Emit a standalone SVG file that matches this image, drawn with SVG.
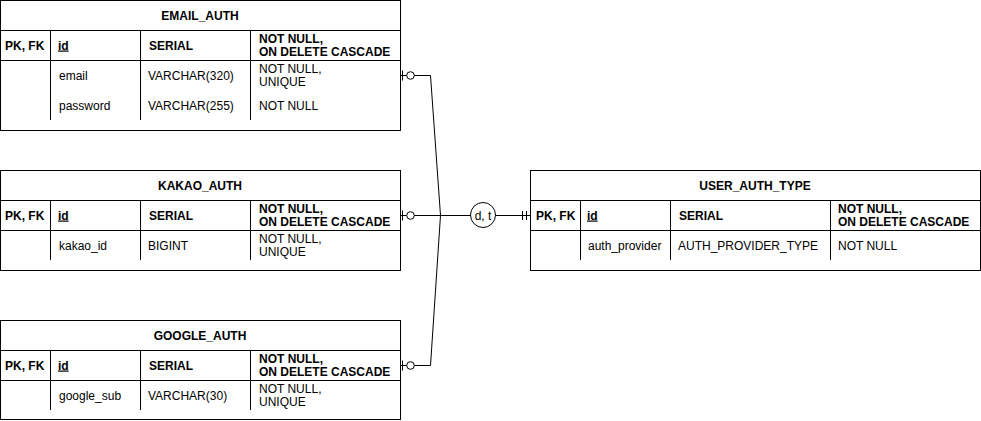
<svg xmlns="http://www.w3.org/2000/svg" width="981" height="421" viewBox="0 0 981 421">
<style>
text{font-family:"Liberation Sans",Arial,sans-serif;font-size:12px;fill:#000}
.b{font-weight:bold}
.c{text-anchor:middle}
.u{text-decoration:underline}
.box{fill:#fff;stroke:#000;stroke-width:1}
.ln{stroke:#000;stroke-width:1;fill:none}
.cn{stroke:#000;stroke-width:1;fill:none}
</style>
<rect width="981" height="421" fill="#fff"/>

<g id="email_auth">
<rect class="box" x="0.5" y="0.5" width="400" height="130"/>
<path class="ln" d="M0.5 30.5H400.5M0.5 60.5H400.5M50.5 30.5V120M140.5 30.5V120M250.5 30.5V120"/>
<text class="b c" x="200" y="19.5">EMAIL_AUTH</text>
<text class="b" x="5" y="49.5">PK, FK</text>
<text class="b u" x="58" y="49.5">id</text>
<text class="b" x="149" y="49.5">SERIAL</text>
<text class="b" x="259" y="43">NOT NULL,</text>
<text class="b" x="259" y="56">ON DELETE CASCADE</text>
<text x="59" y="79.5">email</text>
<text x="148" y="79.5">VARCHAR(320)</text>
<text x="259" y="73">NOT NULL,</text>
<text x="259" y="86">UNIQUE</text>
<text x="59" y="109.5">password</text>
<text x="148" y="109.5">VARCHAR(255)</text>
<text x="259" y="109.5">NOT NULL</text>
</g>

<g id="kakao_auth">
<rect class="box" x="0.5" y="170.5" width="400" height="100"/>
<path class="ln" d="M0.5 200.5H400.5M0.5 230.5H400.5M50.5 200.5V260M140.5 200.5V260M250.5 200.5V260"/>
<text class="b c" x="200" y="189.5">KAKAO_AUTH</text>
<text class="b" x="5" y="219.5">PK, FK</text>
<text class="b u" x="58" y="219.5">id</text>
<text class="b" x="149" y="219.5">SERIAL</text>
<text class="b" x="259" y="213">NOT NULL,</text>
<text class="b" x="259" y="226">ON DELETE CASCADE</text>
<text x="59" y="249.5">kakao_id</text>
<text x="148" y="249.5">BIGINT</text>
<text x="259" y="243">NOT NULL,</text>
<text x="259" y="256">UNIQUE</text>
</g>

<g id="google_auth">
<rect class="box" x="0.5" y="320.5" width="400" height="99"/>
<path class="ln" d="M0.5 350.5H400.5M0.5 380.5H400.5M50.5 350.5V410M140.5 350.5V410M250.5 350.5V410"/>
<text class="b c" x="200" y="339.5">GOOGLE_AUTH</text>
<text class="b" x="5" y="369.5">PK, FK</text>
<text class="b u" x="58" y="369.5">id</text>
<text class="b" x="149" y="369.5">SERIAL</text>
<text class="b" x="259" y="363">NOT NULL,</text>
<text class="b" x="259" y="376">ON DELETE CASCADE</text>
<text x="59" y="399.5">google_sub</text>
<text x="148" y="399.5">VARCHAR(30)</text>
<text x="259" y="393">NOT NULL,</text>
<text x="259" y="406">UNIQUE</text>
</g>

<g id="user_auth_type">
<rect class="box" x="530.5" y="170.5" width="450" height="100"/>
<path class="ln" d="M530.5 200.5H980.5M530.5 230.5H980.5M580.5 200.5V260M670.5 200.5V260M830.5 200.5V260"/>
<text class="b c" x="755" y="189.5">USER_AUTH_TYPE</text>
<text class="b" x="536" y="219.5">PK, FK</text>
<text class="b u" x="587" y="219.5">id</text>
<text class="b" x="679" y="219.5">SERIAL</text>
<text class="b" x="838" y="213">NOT NULL,</text>
<text class="b" x="838" y="226">ON DELETE CASCADE</text>
<text x="588" y="249.5">auth_provider</text>
<text x="678" y="249.5">AUTH_PROVIDER_TYPE</text>
<text x="838" y="249.5">NOT NULL</text>
</g>

<g id="disjoint">
<circle class="box" cx="483" cy="215" r="12.5"/>
<text class="c" x="483" y="219.5">d, t</text>
</g>

<g id="connectors">
<path class="cn" d="M400.5 75.5H430.5L440.5 215.5H470.5"/>
<path class="cn" d="M400.5 365.5H430.5L440.5 215.5"/>
<path class="cn" d="M400.5 215.5H470.5"/>
<path class="cn" d="M495.5 215.5H530.5"/>
<!-- zero-or-one markers -->
<path class="cn" d="M402.5 70.5V80.5M402.5 210.5V220.5M402.5 360.5V370.5"/>
<circle cx="410.5" cy="75.5" r="3.8" fill="#fff" stroke="#000"/>
<circle cx="410.5" cy="215.5" r="3.8" fill="#fff" stroke="#000"/>
<circle cx="410.5" cy="365.5" r="3.8" fill="#fff" stroke="#000"/>
<!-- mandatory one marker -->
<path class="cn" d="M522.5 211V220M526.5 211V220"/>
</g>
</svg>
